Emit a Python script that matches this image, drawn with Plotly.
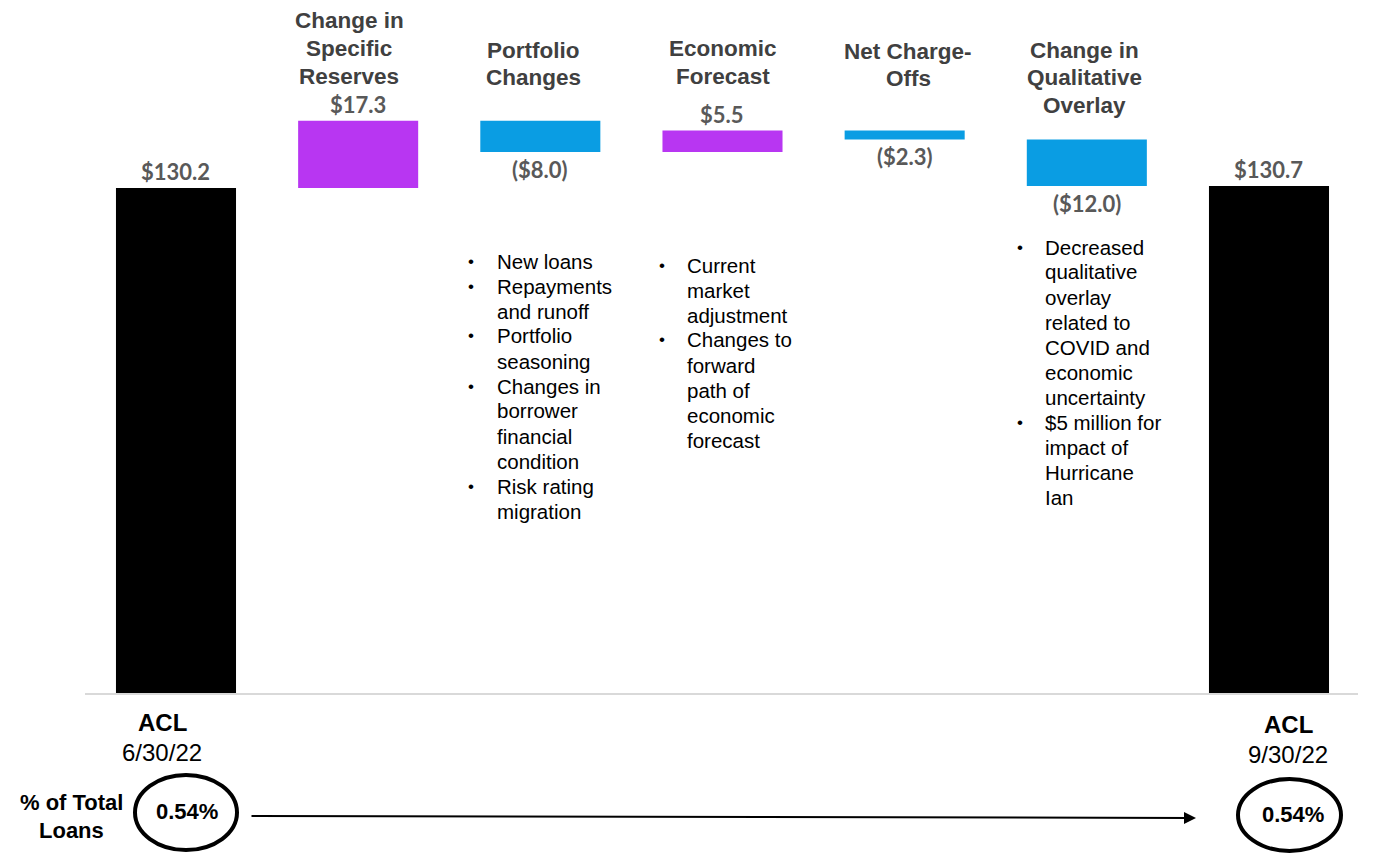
import plotly.graph_objects as go

# ---- data ----
categories = ["ACL 6/30/22", "Change in Specific Reserves", "Portfolio Changes",
              "Economic Forecast", "Net Charge-Offs", "Change in Qualitative Overlay",
              "ACL 9/30/22"]
values = [130.2, 17.3, -8.0, 5.5, -2.3, -12.0, 130.7]
measures = ["absolute", "relative", "relative", "relative", "relative", "relative", "total"]
value_labels = ["$130.2", "$17.3", "($8.0)", "$5.5", "($2.3)", "($12.0)", "$130.7"]
pct_start = "0.54%"
pct_end = "0.54%"

title_lines = [
    [],
    ["Change in", "Specific", "Reserves"],
    ["Portfolio", "Changes"],
    ["Economic", "Forecast"],
    ["Net Charge-", "Offs"],
    ["Change in", "Qualitative", "Overlay"],
    [],
]
portfolio_notes = ["New loans", "Repayments", "and runoff", "Portfolio", "seasoning",
                   "Changes in", "borrower", "financial", "condition", "Risk rating", "migration"]
portfolio_bullets = [0, 1, 3, 5, 9]
economic_notes = ["Current", "market", "adjustment", "Changes to", "forward",
                  "path of", "economic", "forecast"]
economic_bullets = [0, 3]
qual_notes = ["Decreased", "qualitative", "overlay", "related to", "COVID and",
              "economic", "uncertainty", "$5 million for", "impact of", "Hurricane", "Ian"]
qual_bullets = [0, 7]

# ---- style ----
W, H = 1385, 857
ML, MR, MT, MB = 85, 27, 10, 164
PW, PH = W - ML - MR, H - MT - MB
PURPLE = "#B836F2"
BLUE = "#0A9DE3"
BLACK = "#000000"
LABEL_GRAY = "#595959"
TITLE_GRAY = "#404040"
YMAX = PH / 3.879


def px(x):
    return (x - ML) / PW


def py(y):
    return (MT + PH - y) / PH


fig = go.Figure(go.Waterfall(
    x=list(range(len(categories))),
    y=values,
    measure=measures,
    width=0.659,
    increasing=dict(marker=dict(color=PURPLE)),
    decreasing=dict(marker=dict(color=BLUE)),
    totals=dict(marker=dict(color=BLACK)),
    connector=dict(visible=False),
    hoverinfo="skip",
    showlegend=False,
))

# value labels placed relative to the bars
level = 0.0
for i, (v, m, t) in enumerate(zip(values, measures, value_labels)):
    if m == "absolute":
        base, top = 0.0, v
        level = v
    elif m == "relative":
        base, top = level, level + v
        level = level + v
    else:
        base, top = 0.0, level
    hi, lo = max(base, top), min(base, top)
    if m == "relative" and v < 0:
        fig.add_annotation(x=i, y=lo, xref="x", yref="y", text=t, showarrow=False,
                           yanchor="top", yshift=-2,
                           font=dict(family="Lato", size=22, color=LABEL_GRAY, weight="bold"))
    else:
        fig.add_annotation(x=i, y=hi, xref="x", yref="y", text=t, showarrow=False,
                           yanchor="bottom", yshift=1,
                           font=dict(family="Lato", size=22, color=LABEL_GRAY, weight="bold"))


def add_lines(lines, x, y0, dy, size, color, bold=False, xanchor="center"):
    for k, ln in enumerate(lines):
        fig.add_annotation(x=px(x), y=py(y0 + k * dy), xref="paper", yref="paper",
                           text=ln, showarrow=False, xanchor=xanchor, yanchor="middle",
                           font=dict(family="Liberation Sans, Arial", size=size, color=color,
                                     weight="bold" if bold else "normal"))


# category titles
title_pos = {1: (349, 21), 2: (533, 50), 3: (723, 49), 4: (908, 51), 5: (1084, 50)}
for i, (xc, y0) in title_pos.items():
    add_lines(title_lines[i], xc, y0, 27.7, 22.5, TITLE_GRAY, bold=True)

# bullet notes
def add_notes(lines, bullets, xtext, xbul, y0, dy=25):
    add_lines(lines, xtext, y0, dy, 20.5, BLACK, xanchor="left")
    for b in bullets:
        add_lines(["•"], xbul, y0 + b * dy, dy, 17, BLACK)

add_notes(portfolio_notes, portfolio_bullets, 495, 471, 261)
add_notes(economic_notes, economic_bullets, 685, 662, 265)
add_notes(qual_notes, qual_bullets, 1043, 1020, 247)

# bottom labels
add_lines(["ACL"], 162, 722, 0, 24, BLACK, bold=True)
add_lines(["6/30/22"], 162, 752, 0, 24, BLACK)
add_lines(["ACL"], 1288, 724, 0, 24, BLACK, bold=True)
add_lines(["9/30/22"], 1288, 754, 0, 24, BLACK)
add_lines(["% of Total", "Loans"], 71, 802, 28, 22, BLACK, bold=True)
add_lines([pct_start], 187, 811, 0, 22, BLACK, bold=True)
add_lines([pct_end], 1293, 814, 0, 22, BLACK, bold=True)

# ellipses
for (x0, x1, y0, y1) in [(135, 237, 775, 850), (1238, 1341, 779, 851)]:
    fig.add_shape(type="circle", xref="paper", yref="paper",
                  x0=px(x0), x1=px(x1), y0=py(y1), y1=py(y0),
                  line=dict(color=BLACK, width=4), fillcolor="rgba(0,0,0,0)")

# arrow
fig.add_annotation(x=px(1196), y=py(818), xref="paper", yref="paper",
                   ax=-(1196 - 250), ay=-2, axref="pixel", ayref="pixel",
                   showarrow=True, arrowhead=2, arrowsize=1.2, arrowwidth=2,
                   arrowcolor=BLACK, text="")

fig.update_layout(
    width=W, height=H,
    margin=dict(l=ML, r=MR, t=MT, b=MB, pad=0),
    paper_bgcolor="white", plot_bgcolor="white",
    xaxis=dict(range=[-0.4995, 6.4886], showticklabels=False, showgrid=False,
               zeroline=False, showline=True, linecolor="#D9D9D9", linewidth=2,
               ticks="", fixedrange=True),
    yaxis=dict(range=[0, YMAX], visible=False, showgrid=False, zeroline=False,
               fixedrange=True),
)

fig.write_html("out.html", config={"displayModeBar": False},
               post_script="document.body.style.margin='0';document.body.style.overflow='hidden';")
